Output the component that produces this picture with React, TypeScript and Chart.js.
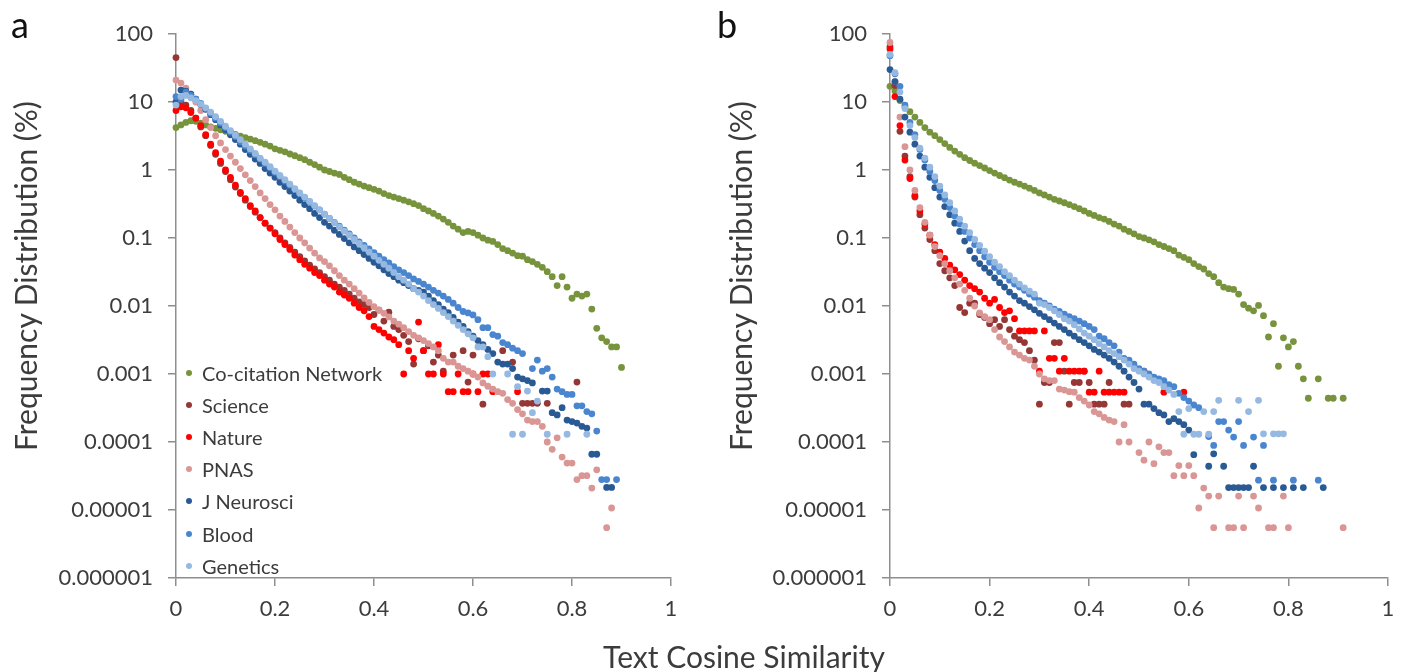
import React, { useEffect, useRef } from "react";
import { Chart, registerables } from "chart.js";

Chart.register(...registerables);

// ---------- labels / ticks ----------
const SERIES_NAMES = ["Co-citation Network", "Science", "Nature", "PNAS", "J Neurosci", "Blood", "Genetics"];
const SERIES_COLORS = ["#77933c", "#953735", "#ff0000", "#d99694", "#2a5a94", "#4a86cf", "#95b9e1"];
const PANEL_LABELS = ["a", "b"];
const X_TITLE = "Text Cosine Similarity";
const Y_TITLE = "Frequency Distribution (%)";
const BIN_STEP = 0.01; // histogram bin width on the x axis
const X_TICKS = [0, 0.2, 0.4, 0.6, 0.8, 1];
const X_TICK_LABELS = ["0", "0.2", "0.4", "0.6", "0.8", "1"];
const Y_TICKS = [1e-6, 1e-5, 1e-4, 1e-3, 1e-2, 1e-1, 1, 10, 100];
const Y_TICK_LABELS = ["0.000001", "0.00001", "0.0001", "0.001", "0.01", "0.1", "1", "10", "100"];

// ---------- panel a (values per 0.01 bin, null = no point) ----------
const A_COCITATION = [
  4.2, 4.6, 5.0, 5.3, 5.2, 4.9, 4.6, 4.3, 4.1, 3.9,
  3.7, 3.5, 3.35, 3.15, 3.0, 2.85, 2.7, 2.55, 2.4, 2.25,
  2.05, 1.95, 1.85, 1.72, 1.62, 1.52, 1.42, 1.3, 1.2, 1.1,
  1.0, 0.95, 0.9, 0.86, 0.78, 0.72, 0.66, 0.62, 0.58, 0.55,
  0.52, 0.49, 0.45, 0.42, 0.4, 0.38, 0.36, 0.34, 0.32, 0.3,
  0.27, 0.25, 0.23, 0.21, 0.19, 0.17, 0.15, 0.135, 0.12, 0.125,
  0.12, 0.11, 0.1, 0.093, 0.089, 0.08, 0.07, 0.065, 0.06, 0.055,
  0.054, 0.048, 0.045, 0.041, 0.037, 0.032, 0.027, 0.02, 0.027, 0.019,
  0.013, 0.015, 0.014, 0.015, 0.009, 0.0047, 0.0034, 0.003, 0.0025, 0.0025,
  0.00125,
];
const A_SCIENCE = [
  45, 10, 9.0, 7.5, 5.8, 4.3, 3.2, 2.3, 1.7, 1.25,
  0.95, 0.72, 0.56, 0.45, 0.36, 0.29, 0.24, 0.2, 0.165, 0.14,
  0.12, 0.1, 0.085, 0.073, 0.062, 0.053, 0.046, 0.04, 0.035, 0.031,
  0.027, 0.024, 0.021, 0.019, 0.017, 0.015, 0.013, 0.0115, 0.0105, 0.0095,
  0.0075, 0.0087, 0.006, 0.0081, 0.005, 0.0045, 0.0037, 0.003, 0.0014, 0.0033,
  0.0022, 0.0026, 0.0015, 0.0019, 0.0011, null, 0.0019, null, 0.0022, 0.00076,
  0.0019, null, 0.00036, null, null, null, 0.0022, null, 0.0015, null,
  0.00037, 0.00037, 0.00037, 0.00037, null, 0.00037, null, null, null, null,
  null, 0.00076,
];
const A_NATURE = [
  7.5, 8.5, 8.2, 7.0, 5.8, 4.5, 3.3, 2.4, 1.8, 1.35,
  1.0, 0.78, 0.6, 0.47, 0.38, 0.3, 0.25, 0.2, 0.165, 0.14,
  0.115, 0.095, 0.08, 0.068, 0.056, 0.048, 0.041, 0.036, 0.031, 0.028,
  0.024, 0.021, 0.019, 0.016, 0.0145, 0.013, 0.011, 0.0095, 0.0085, 0.007,
  0.005, 0.0045, 0.004, 0.0035, 0.0032, 0.0027, 0.001, 0.0022, 0.0017, 0.0058,
  0.0022, 0.001, 0.001, 0.0027, 0.001, 0.00055, 0.00055, 0.001, 0.00055, 0.00055,
  0.001, 0.00055, 0.001, 0.001, 0.00055, null, null, null, null, 0.00055,
];
const A_PNAS = [
  21, 19, 16, 13, 10, 7.5, 5.5, 4.2, 3.2, 2.5,
  2.0, 1.6, 1.3, 1.05, 0.85, 0.7, 0.57, 0.46, 0.38, 0.31,
  0.26, 0.21, 0.175, 0.145, 0.12, 0.1, 0.085, 0.071, 0.06, 0.051,
  0.045, 0.039, 0.033, 0.028, 0.024, 0.021, 0.018, 0.0155, 0.0132, 0.0113,
  0.0098, 0.0088, 0.0078, 0.0069, 0.006, 0.0054, 0.0048, 0.0042, 0.0037, 0.0034,
  0.0031, 0.0028, 0.0025, 0.0022, 0.0017, 0.0015, 0.0015, 0.0013, 0.0012, 0.0011,
  0.001, 0.0009, 0.00074, 0.00066, 0.0006, 0.00055, 0.00052, 0.00042, 0.00037, 0.0003,
  0.00026, 0.00021, 0.0002, 0.0002, 0.00017, 0.0001, 0.000078, 0.000115, 0.00006, 0.000049,
  0.000049, 0.000028, 0.000032, 0.000032, 0.000021, 0.000039, null, 0.0000055, 0.0000107,
];
const A_JNEURO = [
  10, 15, 14.5, 13, 11, 9.2, 7.8, 6.5, 5.5, 4.6,
  3.9, 3.3, 2.8, 2.4, 2.0, 1.7, 1.45, 1.25, 1.05, 0.9,
  0.78, 0.66, 0.57, 0.49, 0.42, 0.36, 0.31, 0.27, 0.23, 0.2,
  0.17, 0.15, 0.13, 0.113, 0.098, 0.085, 0.074, 0.065, 0.057, 0.05,
  0.044, 0.039, 0.034, 0.03, 0.027, 0.024, 0.022, 0.02, 0.018, 0.017,
  0.016, 0.014, 0.012, 0.0105, 0.009, 0.008, 0.0068, 0.0058, 0.005, 0.0042,
  0.0036, 0.0031, 0.0027, 0.0023, 0.002, 0.0015, 0.0014, 0.0014, 0.0012, 0.0009,
  0.00085, 0.0008, 0.00074, null, 0.00056, 0.00056, 0.00027, 0.00025, 0.00032, 0.00021,
  0.0002, 0.00019, 0.00017, 0.00016, 0.000066, 0.000066, null, 0.0000215, 0.0000215,
];
const A_BLOOD = [
  12, 11, 14, 12.5, 11, 9.5, 8, 6.8, 5.8, 4.9,
  4.2, 3.6, 3.1, 2.6, 2.25, 1.95, 1.68, 1.45, 1.25, 1.08,
  0.93, 0.8, 0.69, 0.6, 0.52, 0.45, 0.39, 0.34, 0.295, 0.26,
  0.225, 0.195, 0.17, 0.15, 0.13, 0.115, 0.1, 0.088, 0.078, 0.069,
  0.061, 0.054, 0.048, 0.043, 0.038, 0.034, 0.031, 0.028, 0.025, 0.023,
  0.021, 0.019, 0.017, 0.0155, 0.014, 0.0125, 0.011, 0.0095, 0.0083, 0.0079,
  0.0074, 0.0063, 0.0048, 0.0048, 0.0038, 0.0036, 0.0029, 0.0027, 0.0024, 0.0022,
  0.002, null, 0.0012, 0.0016, 0.0011, 0.0012, 0.0009, 0.0006, 0.00055, 0.0005,
  0.0005, 0.00034, 0.00034, 0.00028, 0.00026, 0.000145, 0.000028, 0.000028, null, 0.000028,
];
const A_GENETICS = [
  9, 12, 12.5, 11.5, 10.5, 9.3, 8.2, 7.1, 6.1, 5.2,
  4.4, 3.8, 3.25, 2.8, 2.4, 2.05, 1.75, 1.5, 1.3, 1.12,
  0.96, 0.83, 0.72, 0.62, 0.53, 0.46, 0.4, 0.345, 0.3, 0.26,
  0.225, 0.195, 0.168, 0.145, 0.126, 0.11, 0.095, 0.083, 0.072, 0.062,
  0.054, 0.047, 0.041, 0.036, 0.031, 0.027, 0.024, 0.021, 0.018, 0.016,
  0.014, 0.012, 0.0105, 0.0092, 0.008, 0.007, 0.006, 0.0052, 0.0045, 0.0039,
  0.0034, 0.0025, 0.0025, 0.0018, 0.001, null, null, 0.001, 0.00013, 0.00065,
  0.00013, 0.00056, 0.00027, 0.0004, null, 0.00013, null, null, null, 0.00013,
  null, null, null, 0.00013,
];

// ---------- panel b ----------
const B_COCITATION = [
  17, 14.5, 10.5, 8.5, 7.2, 6.0, 5.0, 4.2, 3.6, 3.2,
  2.8, 2.45, 2.15, 1.9, 1.7, 1.52, 1.38, 1.26, 1.16, 1.07,
  0.98, 0.9, 0.83, 0.77, 0.71, 0.66, 0.62, 0.58, 0.54, 0.5,
  0.46, 0.43, 0.4, 0.37, 0.35, 0.33, 0.31, 0.29, 0.27, 0.25,
  0.23, 0.215, 0.2, 0.19, 0.175, 0.16, 0.15, 0.135, 0.125, 0.115,
  0.105, 0.1, 0.094, 0.088, 0.08, 0.075, 0.07, 0.065, 0.056, 0.052,
  0.048, 0.042, 0.038, 0.035, 0.03, 0.027, 0.022, 0.019, 0.018, 0.0175,
  0.015, 0.0105, 0.0093, 0.0085, 0.0102, 0.0072, 0.0035, 0.0055, 0.0013, 0.0034,
  0.0025, 0.003, 0.0013, 0.00085, 0.00044, null, 0.00085, null, 0.00044, 0.00044,
  null, 0.00044,
];
const B_SCIENCE = [
  65, 17.5, 3.7, 1.6, 0.8, 0.4, 0.22, 0.14, 0.095, 0.065,
  0.042, 0.033, 0.026, 0.02, 0.0095, 0.008, 0.011, 0.011, 0.0075, 0.0068,
  0.0055, 0.0063, 0.005, 0.0063, 0.0045, 0.0036, 0.0032, 0.0029, 0.0022, 0.0016,
  0.00036, 0.00075, 0.00075, 0.0029, 0.0029, 0.0011, 0.00036, 0.00075, 0.00075, 0.0011,
  0.00075, 0.00036, 0.00036, 0.00036, 0.00075, null, null, 0.00036, 0.00036,
];
const B_NATURE = [
  60, 12, 4.5, 1.4, 0.75, 0.42, 0.25, 0.16, 0.11, 0.08,
  0.062, 0.05, 0.04, 0.034, 0.029, 0.024, 0.02, 0.018, 0.016, 0.013,
  0.011, 0.0125, 0.0095, 0.008, 0.0085, 0.0065, 0.0043, 0.0043, 0.0043, 0.0043,
  0.0011, 0.0043, 0.0017, 0.0017, 0.0011, 0.0017, 0.0011, 0.0011, 0.0011, 0.0011,
  0.00054, 0.00054, 0.0011, 0.00054, 0.00054, 0.00054, 0.00054, 0.00054, null, null,
  null, 0.0011, null, null, null, 0.00054, null, null, null, 0.00054,
];
const B_PNAS = [
  75, 20, 6, 2.2, 1.0, 0.5, 0.28, 0.17, 0.11, 0.075,
  0.055, 0.042, 0.033, 0.026, 0.021, 0.017, 0.013, 0.01, 0.0079, 0.007,
  0.0063, 0.0045, 0.0035, 0.003, 0.0025, 0.0021, 0.0019, 0.0017, 0.0016, 0.0013,
  0.001, 0.00085, 0.0008, 0.0008, 0.0006, 0.00058, 0.00055, 0.00054, 0.00045, 0.0004,
  0.00035, 0.00028, 0.00026, 0.00023, 0.00021, 0.0002, 0.0001, 0.00018, 0.0001, null,
  0.00007, 0.000054, 0.0001, 0.000048, 0.000085, 0.00007, 0.00007, 0.000032, 0.000045, 0.000032,
  0.000045, 0.000032, 0.0000107, 0.000021, 0.000016, 0.0000055, 0.000016, null, 0.0000055, 0.0000055,
  0.000016, 0.0000055, null, 0.000016, 0.0000107, null, 0.0000055, 0.0000055, null, 0.000016,
  0.0000055, null, null, null, null, null, null, null, null, null,
  null, 0.0000055,
];
const B_JNEURO = [
  30, 20, 11, 6, 3.6, 2.4, 1.6, 1.1, 0.78, 0.55,
  0.4, 0.29, 0.22, 0.165, 0.125, 0.09, 0.065, 0.05, 0.042, 0.036,
  0.031, 0.026, 0.022, 0.019, 0.016, 0.014, 0.012, 0.011, 0.0098, 0.0088,
  0.0078, 0.007, 0.0063, 0.0056, 0.005, 0.0045, 0.004, 0.0036, 0.0032, 0.0029,
  0.0026, 0.0023, 0.0021, 0.0019, 0.0017, 0.0015, 0.0013, 0.0011, 0.0009, 0.00075,
  0.0006, 0.00036, 0.00036, 0.00031, 0.00027, 0.00025, 0.0002, 0.00022, 0.0002, 0.00018,
  0.00015, 0.000065, null, null, 0.000044, 0.000067, null, 0.000044, 0.0000214, 0.0000214,
  0.0000214, 0.0000214, 0.0000214, 0.000044, null, 0.0000214, null, 0.0000214, null, 0.0000214,
  null, 0.0000214, null, 0.0000214, null, null, null, 0.0000214,
];
const B_BLOOD = [
  48, 26, 17, 9, 5, 3.3, 2.0, 1.4, 0.95, 0.7,
  0.5, 0.37, 0.28, 0.21, 0.16, 0.125, 0.1, 0.08, 0.065, 0.053,
  0.044, 0.037, 0.032, 0.028, 0.024, 0.021, 0.019, 0.017, 0.015, 0.0135,
  0.012, 0.011, 0.01, 0.009, 0.0083, 0.0076, 0.007, 0.0065, 0.006, 0.0055,
  0.005, 0.0045, 0.0036, 0.0033, 0.0029, 0.0026, 0.0021, 0.0017, 0.0016, 0.0014,
  0.0012, 0.0011, 0.001, 0.0009, 0.00085, 0.0008, 0.0007, 0.00065, 0.00052, 0.00045,
  0.0004, 0.00035, 0.00032, null, 0.00012, 0.000089, 0.0002, 0.0002, 0.00015, 0.000118,
  0.0002, 0.000089, null, 0.000118, 0.0000275, 0.000089, null, 0.0000275, null, null,
  null, 0.0000275, null, null, null, null, 0.0000275,
];
const B_GENETICS = [
  50, 27, 14, 8, 4.5, 3.0, 2.1, 1.5, 1.1, 0.8,
  0.58, 0.43, 0.33, 0.25, 0.19, 0.15, 0.12, 0.095, 0.078, 0.064,
  0.053, 0.044, 0.038, 0.032, 0.028, 0.024, 0.021, 0.0185, 0.0165, 0.015,
  0.011, 0.0105, 0.0095, 0.0085, 0.0075, 0.0065, 0.006, 0.0053, 0.0046, 0.004,
  0.0036, 0.0032, 0.0028, 0.0025, 0.0022, 0.002, 0.0018, 0.0016, 0.0014, 0.0012,
  0.0011, 0.001, 0.0009, 0.0008, 0.00075, 0.00065, 0.00058, 0.0005, 0.00028, 0.00013,
  0.00031, 0.00013, 0.00013, 0.00028, 0.00013, 0.00028, 0.00041, null, null, null,
  0.00041, null, 0.00028, null, 0.00041, 0.000132, null, 0.000132, 0.000132, 0.000132,
];

const PANEL_A = [A_COCITATION, A_SCIENCE, A_NATURE, A_PNAS, A_JNEURO, A_BLOOD, A_GENETICS];
const PANEL_B = [B_COCITATION, B_SCIENCE, B_NATURE, B_PNAS, B_JNEURO, B_BLOOD, B_GENETICS];

// ---------- styling ----------
const FONT = "Lato, 'Open Sans', sans-serif";
const TEXT_COLOR = "#3c3c3c";
const AXIS_COLOR = "#8e8e8e";

function toPoints(vals: (number | null)[]) {
  const pts: { x: number; y: number }[] = [];
  vals.forEach((v, i) => {
    if (v != null) pts.push({ x: Math.round(i * BIN_STEP * 1000) / 1000, y: v });
  });
  return pts;
}

function makeConfig(series: (number | null)[][], yWidth: number, padRight: number): any {
  return {
    type: "scatter",
    data: {
      datasets: series.map((vals, i) => ({
        label: SERIES_NAMES[i],
        data: toPoints(vals),
        backgroundColor: SERIES_COLORS[i],
        borderColor: SERIES_COLORS[i],
        borderWidth: 0,
        pointRadius: 3.4,
        pointHoverRadius: 3.4,
        order: -i,
        clip: false,
      })),
    },
    options: {
      animation: false,
      responsive: false,
      maintainAspectRatio: false,
      events: [],
      layout: { padding: { left: 0, right: padRight, top: 34, bottom: 0 } },
      plugins: { legend: { display: false }, tooltip: { enabled: false }, title: { display: false } },
      scales: {
        x: {
          type: "linear",
          min: 0,
          max: 1,
          afterBuildTicks: (s: any) => {
            s.ticks = X_TICKS.map((v) => ({ value: v }));
          },
          afterFit: (s: any) => {
            s.height = 94;
          },
          ticks: {
            autoSkip: false,
            maxRotation: 0,
            padding: 10,
            color: TEXT_COLOR,
            font: { family: FONT, size: 22 },
            callback: (v: number) => {
              const idx = X_TICKS.findIndex((t) => Math.abs(t - v) < 1e-9);
              return idx >= 0 ? X_TICK_LABELS[idx] : "";
            },
          },
          grid: { display: true, drawOnChartArea: false, drawTicks: true, tickLength: 8, color: AXIS_COLOR, lineWidth: 1.5 },
          border: { display: true, color: AXIS_COLOR, width: 1.5 },
        },
        y: {
          type: "logarithmic",
          min: 1e-6,
          max: 100,
          afterBuildTicks: (s: any) => {
            s.ticks = Y_TICKS.map((v) => ({ value: v, major: false }));
          },
          afterFit: (s: any) => {
            s.width = yWidth;
          },
          ticks: {
            autoSkip: false,
            padding: 15,
            color: TEXT_COLOR,
            font: { family: FONT, size: 22 },
            callback: (v: number) => {
              const idx = Y_TICKS.findIndex((t) => Math.abs(Math.log10(t) - Math.log10(v)) < 1e-6);
              return idx >= 0 ? Y_TICK_LABELS[idx] : "";
            },
          },
          grid: { display: true, drawOnChartArea: false, drawTicks: true, tickLength: 8, color: AXIS_COLOR, lineWidth: 1.5 },
          border: { display: true, color: AXIS_COLOR, width: 1.5 },
        },
      },
    },
  };
}

function Panel({ series, left, yWidth, padRight }: { series: (number | null)[][]; left: number; yWidth: number; padRight: number }) {
  const ref = useRef<HTMLCanvasElement | null>(null);
  useEffect(() => {
    if (!ref.current) return;
    const chart = new Chart(ref.current, makeConfig(series, yWidth, padRight));
    return () => chart.destroy();
  }, []);
  return (
    <canvas
      ref={ref}
      width={712}
      height={672}
      style={{ position: "absolute", left, top: 0, width: 712, height: 672 }}
    />
  );
}

const LEGEND_TOP = 373;
const LEGEND_STEP = 32.1;

export default function App() {
  return (
    <div
      style={{
        position: "absolute",
        left: 0,
        top: 0,
        width: 1424,
        height: 672,
        background: "#ffffff",
        overflow: "hidden",
        fontFamily: FONT,
        color: TEXT_COLOR,
      }}
    >
      <Panel series={PANEL_A} left={0} yWidth={176} padRight={41} />
      <Panel series={PANEL_B} left={712} yWidth={178} padRight={36} />

      {/* panel letters */}
      <div style={{ position: "absolute", left: 11, top: 6, fontSize: 36, lineHeight: "36px", color: "#111" }}>{PANEL_LABELS[0]}</div>
      <div style={{ position: "absolute", left: 717, top: 6, fontSize: 36, lineHeight: "36px", color: "#111" }}>{PANEL_LABELS[1]}</div>

      {/* y titles */}
      {[25, 740].map((cx, k) => (
        <div
          key={k}
          style={{
            position: "absolute",
            left: cx,
            top: 276,
            transform: "translate(-50%, -50%) rotate(-90deg)",
            whiteSpace: "nowrap",
            fontSize: 30,
            lineHeight: "30px",
          }}
        >
          {Y_TITLE}
        </div>
      ))}

      {/* shared x title */}
      <div
        style={{
          position: "absolute",
          left: 744,
          top: 656,
          transform: "translate(-50%, -50%)",
          whiteSpace: "nowrap",
          fontSize: 30,
          lineHeight: "30px",
        }}
      >
        {X_TITLE}
      </div>

      {/* legend of panel a */}
      {SERIES_NAMES.map((name, i) => (
        <div
          key={name}
          style={{ position: "absolute", left: 184, top: LEGEND_TOP + i * LEGEND_STEP - 11, height: 22, display: "flex", alignItems: "center" }}
        >
          <span style={{ width: 6, height: 6, borderRadius: 3, background: SERIES_COLORS[i], display: "inline-block", marginLeft: 2 }} />
          <span style={{ marginLeft: 10, fontSize: 20, lineHeight: "22px", whiteSpace: "nowrap" }}>{name}</span>
        </div>
      ))}
    </div>
  );
}
